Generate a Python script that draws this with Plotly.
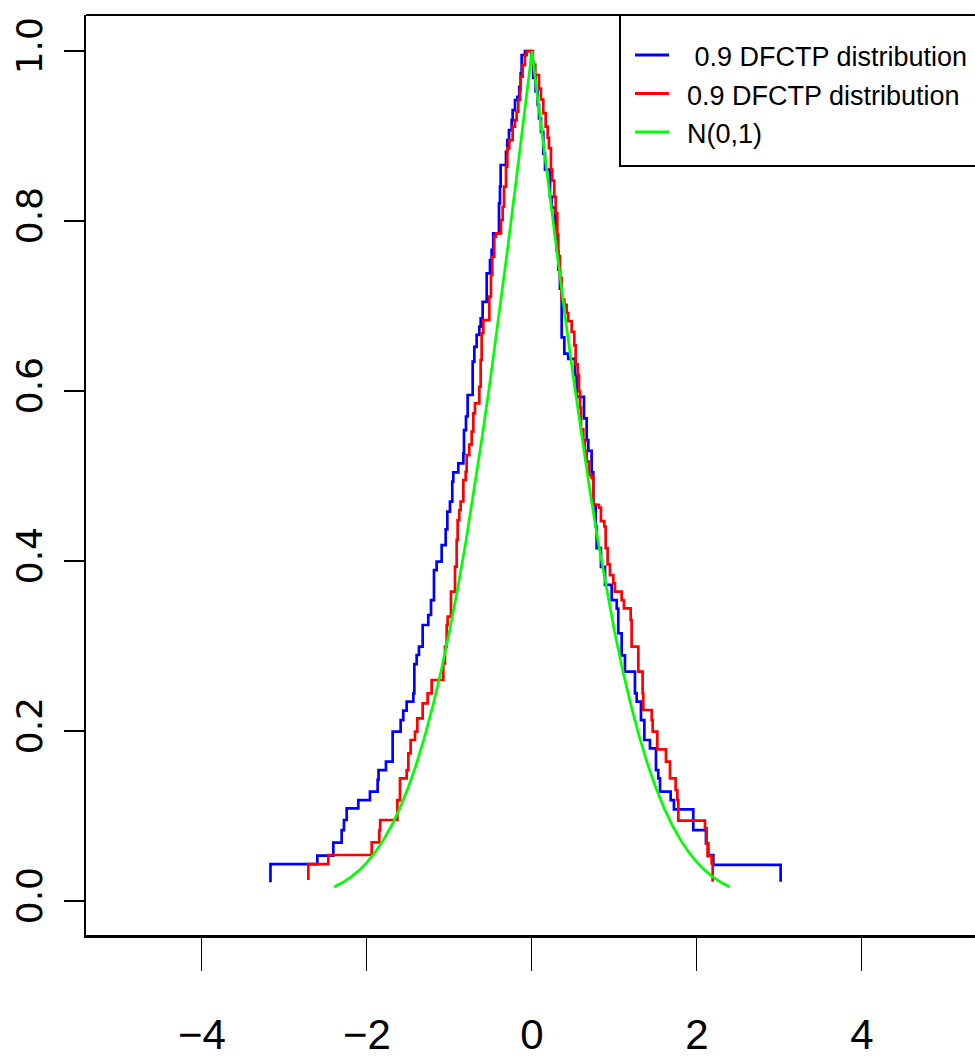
import plotly.graph_objects as go

# ---- data ----
blue_name = " 0.9 DFCTP distribution"
red_name = "0.9 DFCTP distribution"
green_name = "N(0,1)"

blue_x = [-3.17, -3.17, -2.602, -2.408, -2.307, -2.279, -2.246, -2.105, -1.964, -1.871, -1.860,
          -1.770, -1.689, -1.592, -1.560, -1.519, -1.438, -1.426, -1.398, -1.370, -1.325, -1.257,
          -1.224, -1.188, -1.156, -1.095, -1.046, -1.026, -0.994, -0.966, -0.954, -0.893, -0.832,
          -0.824, -0.800, -0.780, -0.719, -0.699, -0.671, -0.638, -0.622, -0.598, -0.549, -0.509,
          -0.489, -0.469, -0.400, -0.388, -0.380, -0.315, -0.299, -0.279, -0.246, -0.234, -0.206,
          -0.178, -0.154, -0.137, -0.125, -0.085,
          -0.010, 0.016, 0.044, 0.069, 0.085, 0.109, 0.137, 0.158, 0.218, 0.238, 0.279, 0.299,
          0.319, 0.339, 0.360, 0.392, 0.440, 0.521, 0.541, 0.630, 0.663, 0.683, 0.723, 0.743,
          0.772, 0.784, 0.836, 0.885, 0.966, 1.027, 1.046, 1.087, 1.127, 1.248, 1.269, 1.321,
          1.362, 1.430, 1.503, 1.531, 1.552, 1.681, 1.721, 1.955, 2.109, 2.137, 2.198, 3.014]
blue_y = [0.022, 0.0435, 0.0533, 0.0686, 0.0835, 0.0953, 0.109, 0.1188, 0.1286, 0.1424, 0.154,
          0.1639, 0.1992, 0.2129, 0.2239, 0.2345, 0.2443, 0.2788, 0.2894, 0.2992, 0.3247, 0.3365,
          0.3541, 0.3894, 0.3992, 0.4188, 0.4373, 0.458, 0.4698, 0.4933, 0.5043, 0.5149, 0.5267,
          0.554, 0.570, 0.5953, 0.6345, 0.652, 0.666, 0.6757, 0.6855, 0.705, 0.7384, 0.754,
          0.766, 0.7855, 0.8208, 0.8404, 0.8659, 0.8815, 0.8953, 0.907, 0.9188, 0.9306, 0.9424,
          0.946, 0.958, 0.974, 0.9953, 1.0,
          0.9875, 0.9685, 0.9525, 0.9366, 0.9207, 0.9048, 0.8794, 0.8604, 0.8285, 0.8158, 0.784, 0.765,
          0.7427, 0.7205, 0.6632, 0.6441, 0.6378, 0.6187, 0.5932, 0.5678, 0.5424, 0.5296, 0.5042, 0.466,
          0.4406, 0.4152, 0.393, 0.372, 0.354, 0.344, 0.315, 0.289, 0.2698, 0.2443, 0.2345, 0.2129,
          0.1894, 0.1796, 0.154, 0.1443, 0.1286, 0.1188, 0.1078, 0.0835, 0.0678, 0.0541, 0.0424, 0.0227]

red_x = [-2.711, -2.711, -2.469, -1.943, -1.851, -1.840, -1.632, -1.600, -1.519, -1.499, -1.471,
         -1.418, -1.390, -1.325, -1.265, -1.216, -1.075, -1.055, -1.034, -1.022, -0.982, -0.933,
         -0.913, -0.901, -0.881, -0.865, -0.832, -0.804, -0.792, -0.760, -0.731, -0.711, -0.691,
         -0.638, -0.622, -0.610, -0.590, -0.517, -0.497, -0.481, -0.457, -0.436, -0.376, -0.355,
         -0.339, -0.315, -0.299, -0.275, -0.234, -0.206, -0.186, -0.166, -0.145, -0.137, -0.113,
         -0.085, -0.064,
         0.010, 0.040, 0.085, 0.109, 0.137, 0.166, 0.190, 0.206, 0.230, 0.246, 0.270, 0.287,
         0.307, 0.319, 0.339, 0.360, 0.392, 0.420, 0.440, 0.481, 0.513, 0.529, 0.554, 0.570,
         0.582, 0.594, 0.622, 0.642, 0.663, 0.691, 0.723, 0.743, 0.812, 0.836, 0.877, 0.893,
         0.917, 0.945, 0.986, 1.006, 1.087, 1.115, 1.196, 1.208, 1.289, 1.341, 1.349, 1.451,
         1.463, 1.519, 1.624, 1.673, 1.741, 1.762, 1.774, 2.097, 2.117, 2.129, 2.178, 2.190]
red_y = [0.0247, 0.0435, 0.0541, 0.069, 0.0835, 0.0953, 0.1188, 0.1443, 0.154, 0.1737, 0.1894,
         0.1992, 0.2149, 0.2326, 0.2443, 0.26, 0.2796, 0.2992, 0.3247, 0.3345, 0.3639, 0.3933,
         0.4247, 0.4482, 0.46, 0.47, 0.4953, 0.505, 0.5247, 0.537, 0.5522, 0.5737, 0.5855,
         0.605, 0.6365, 0.668, 0.6835, 0.711, 0.7365, 0.758, 0.7815, 0.7855, 0.8012, 0.8168,
         0.8404, 0.8639, 0.8855, 0.8953, 0.911, 0.9188, 0.9286, 0.9424, 0.954, 0.9698, 0.9835,
         0.9953, 1.0,
         0.984, 0.9716, 0.9557, 0.943, 0.927, 0.911, 0.898, 0.8858, 0.8604, 0.8476, 0.8285, 0.8094,
         0.784, 0.7586, 0.7332, 0.7077, 0.7013, 0.6918, 0.6822, 0.6695, 0.6536, 0.6314, 0.6187, 0.5995,
         0.5805, 0.555, 0.5424, 0.5296, 0.5169, 0.501, 0.4979, 0.466, 0.4628, 0.447, 0.4406, 0.4152,
         0.3961, 0.3834, 0.3737, 0.3639, 0.354, 0.3443, 0.3306, 0.2992, 0.2698, 0.2443, 0.2247, 0.2129,
         0.1992, 0.1785, 0.1639, 0.1443, 0.1306, 0.1188, 0.0945, 0.0855, 0.0678, 0.0529, 0.0443, 0.0227]

green_x = [-2.4, -2.3, -2.2, -2.1, -2.0, -1.9, -1.8, -1.7, -1.6, -1.5, -1.4, -1.3, -1.2, -1.1,
           -1.0, -0.9, -0.8, -0.7, -0.6, -0.5, -0.4, -0.3, -0.2, -0.1, 0.0,
           0.1, 0.2, 0.3, 0.4, 0.5, 0.6, 0.7, 0.8, 0.9, 1.0, 1.1, 1.2, 1.3, 1.4, 1.5, 1.6,
           1.7, 1.8, 1.9, 2.0, 2.1, 2.2, 2.3, 2.4]
green_y = [0.0164, 0.0214, 0.0278, 0.0357, 0.0455, 0.0574, 0.0719, 0.0891, 0.1096, 0.1336, 0.1615,
           0.1936, 0.2301, 0.2713, 0.3173, 0.3681, 0.4237, 0.4839, 0.5485, 0.6171, 0.6892, 0.7642,
           0.8415, 0.9203, 1.0,
           0.9203, 0.8415, 0.7642, 0.6892, 0.6171, 0.5485, 0.4839, 0.4237, 0.3681, 0.3173, 0.2713,
           0.2301, 0.1936, 0.1615, 0.1336, 0.1096, 0.0891, 0.0719, 0.0574, 0.0455, 0.0357, 0.0278,
           0.0214, 0.0164]

x_ticks = [-4, -2, 0, 2, 4]
x_tick_text = ["\u22124", "\u22122", "0", "2", "4"]
y_ticks = [0.0, 0.2, 0.4, 0.6, 0.8, 1.0]
y_tick_text = ["0.0", "0.2", "0.4", "0.6", "0.8", "1.0"]

series = [
    (blue_name, blue_x, blue_y, "#0000FF", "hv"),
    (red_name, red_x, red_y, "#FF0000", "hv"),
    (green_name, green_x, green_y, "#00FF00", "linear"),
]

W, H = 975, 1057
ML, MR, MT, MB = 86, 0, 15, 122
PW, PH = W - ML - MR, H - MT - MB


def px_x(p):
    return (p - ML) / PW


def px_y(p):
    return (H - MB - p) / PH


SANS = "Liberation Sans, Arial, Helvetica, sans-serif"

fig = go.Figure()
for name, xs, ys, col, shp in series:
    fig.add_trace(go.Scatter(x=xs, y=ys, mode="lines", name=name,
                             line=dict(color=col, width=2.7, shape=shp),
                             showlegend=False, hoverinfo="skip"))

shapes = [
    # top border of the box
    dict(type="line", xref="paper", yref="paper", x0=0, x1=1.05, y0=1, y1=1,
         line=dict(color="black", width=2)),
    # legend box
    dict(type="rect", xref="paper", yref="paper", x0=px_x(620), x1=px_x(1000),
         y0=px_y(166), y1=px_y(15), line=dict(color="black", width=2), fillcolor="white"),
]
annotations = []
legend_rows = [55, 93.5, 132]
for (name, xs, ys, col, shp), yy in zip(series, legend_rows):
    shapes.append(dict(type="line", xref="paper", yref="paper",
                       x0=px_x(635), x1=px_x(669), y0=px_y(yy), y1=px_y(yy),
                       line=dict(color=col, width=3)))
    annotations.append(dict(xref="paper", yref="paper", x=px_x(685), y=px_y(yy + 2),
                            xanchor="left", yanchor="middle", showarrow=False,
                            text=name.replace(" ", "\u00a0", 1) if name.startswith(" ") else name,
                            font=dict(family=SANS, size=27, color="black")))

fig.update_layout(
    width=W, height=H,
    margin=dict(l=ML, r=MR, t=MT, b=MB, pad=0),
    paper_bgcolor="white", plot_bgcolor="white",
    shapes=shapes, annotations=annotations,
    showlegend=False,
)
fig.update_xaxes(range=[-5.406, 5.37], tickvals=x_ticks, ticktext=x_tick_text,
                 ticks="outside", ticklen=33, tickwidth=1.3, tickcolor="black",
                 showline=True, linewidth=3, linecolor="black", automargin=False,
                 showgrid=False, zeroline=False, ticklabelstandoff=28,
                 tickfont=dict(family=SANS, size=42, color="black"))
fig.update_yaxes(range=[-0.04, 1.0424], tickvals=y_ticks, ticktext=y_tick_text,
                 ticks="outside", ticklen=20, tickwidth=2, tickcolor="black",
                 showline=True, linewidth=2, linecolor="black", automargin=False,
                 showgrid=False, zeroline=False, tickangle=-90, ticklabelstandoff=8,
                 tickfont=dict(family="DejaVu Sans", size=36, color="black"))

fig.write_html("out.html")
